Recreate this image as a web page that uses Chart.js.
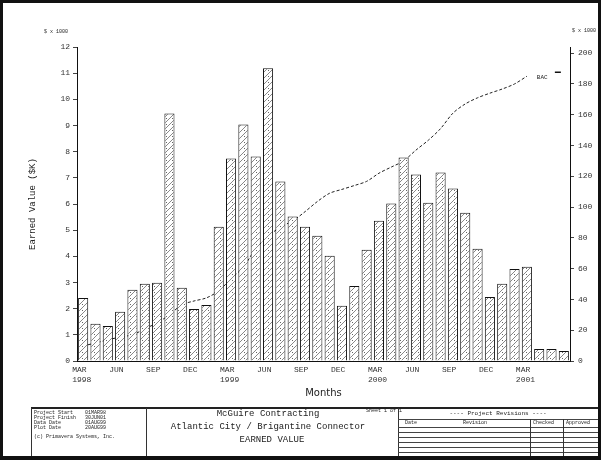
<!DOCTYPE html>
<html><head><meta charset="utf-8">
<script src="https://cdn.jsdelivr.net/npm/chart.js@4"></script>
<style>
html,body{margin:0;padding:0;background:#fff;}
#wrap{position:relative;width:601px;height:460px;overflow:hidden;background:#fff;}
#c{position:absolute;left:0;top:0;}
.frame{position:absolute;left:0;top:0;width:601px;height:460px;box-sizing:border-box;border:3px solid #111;border-bottom-width:4px;pointer-events:none;}
.t{position:absolute;white-space:pre;font-family:'Liberation Mono',monospace;color:#222;line-height:1;}
.hl{position:absolute;height:0;border-top:1px solid #444;}
.vl{position:absolute;width:0;border-left:1px solid #333;}
</style></head>
<body>
<div id="wrap">
<canvas id="c" width="601" height="460"></canvas>
<div class="t" style="left:44px;top:30px;font-size:5px;">$ x 1000</div>
<div class="t" style="left:572px;top:29px;font-size:5px;">$ x 1000</div>

<div class="hl" style="left:31px;top:407px;width:567px;border-top:2px solid #222;"></div>
<div class="vl" style="left:31px;top:408px;height:50px;"></div>
<div class="vl" style="left:146px;top:408px;height:50px;"></div>
<div class="vl" style="left:398px;top:408px;height:50px;"></div>

<div class="t" style="left:34px;top:411px;font-size:5px;">Project Start    01MAR98</div>
<div class="t" style="left:34px;top:416px;font-size:5px;">Project Finish   30JUN01</div>
<div class="t" style="left:34px;top:421px;font-size:5px;">Data Date        01AUG99</div>
<div class="t" style="left:34px;top:426px;font-size:5px;">Plot Date        20AUG99</div>
<div class="t" style="left:34px;top:435px;font-size:5px;">(c) Primavera Systems, Inc.</div>

<div class="t" style="left:146px;width:244px;text-align:center;top:410px;font-size:9px;">McGuire Contracting</div>
<div class="t" style="left:146px;width:244px;text-align:center;top:423px;font-size:9px;">Atlantic City / Brigantine Connector</div>
<div class="t" style="left:146px;width:252px;text-align:center;top:436px;font-size:9px;">EARNED VALUE</div>
<div class="t" style="left:366px;top:409px;font-size:5px;">Sheet 1 of 1</div>

<div class="t" style="left:398px;width:200px;text-align:center;top:411px;font-size:6px;">---- Project Revisions ----</div>
<div class="hl" style="left:398px;top:419px;width:200px;"></div>
<div class="t" style="left:405px;top:421px;font-size:5px;">Date</div>
<div class="t" style="left:463px;top:421px;font-size:5px;">Revision</div>
<div class="t" style="left:533px;top:421px;font-size:5px;">Checked</div>
<div class="t" style="left:566px;top:421px;font-size:5px;">Approved</div>
<div class="hl" style="left:398px;top:427px;width:200px;"></div>
<div class="hl" style="left:398px;top:432px;width:200px;"></div>
<div class="hl" style="left:398px;top:437px;width:200px;"></div>
<div class="hl" style="left:398px;top:442px;width:200px;"></div>
<div class="hl" style="left:398px;top:447px;width:200px;"></div>
<div class="hl" style="left:398px;top:452px;width:200px;"></div>
<div class="vl" style="left:530px;top:419px;height:38px;"></div>
<div class="vl" style="left:563px;top:419px;height:38px;"></div>

<div class="frame"></div>
</div>
<script>
const categories = ['MAR 1998','APR 1998','MAY 1998','JUN 1998','JUL 1998','AUG 1998','SEP 1998','OCT 1998','NOV 1998','DEC 1998',
  'JAN 1999','FEB 1999','MAR 1999','APR 1999','MAY 1999','JUN 1999','JUL 1999','AUG 1999','SEP 1999','OCT 1999','NOV 1999','DEC 1999',
  'JAN 2000','FEB 2000','MAR 2000','APR 2000','MAY 2000','JUN 2000','JUL 2000','AUG 2000','SEP 2000','OCT 2000','NOV 2000','DEC 2000',
  'JAN 2001','FEB 2001','MAR 2001','APR 2001','MAY 2001','JUN 2001'];
const xTickLabels = [['MAR','1998'],['JUN'],['SEP'],['DEC'],['MAR','1999'],['JUN'],['SEP'],['DEC'],['MAR','2000'],['JUN'],['SEP'],['DEC'],['MAR','2001']];
const monthlyValues = [2.41,1.42,1.34,1.88,2.72,2.95,2.99,9.46,2.8,1.99,2.14,5.13,7.74,9.04,7.82,11.19,6.86,5.52,5.13,4.79,
  4.02,2.11,2.87,4.25,5.36,6.02,7.78,7.13,6.05,7.2,6.59,5.67,4.29,2.45,2.95,3.52,3.6,0.46,0.46,0.38];
const cumulativeValues = [9.8,11.7,13.7,15.6,17,20.9,24.8,30,36.5,39,41,45.6,53.5,61,73,81,87,91,97,103.6,
  109,111.5,114,116.7,122,126,130,137,143.4,151,161,167,171,174,176.7,180,185,null,null,null];
const bacLabel = 'BAC';
const yTitle = 'Earned Value ($K)';
const xTitle = 'Months';

function makePattern(){
  const s = 6;
  const c = document.createElement('canvas'); c.width = s; c.height = s;
  const g = c.getContext('2d');
  g.fillStyle = '#fff'; g.fillRect(0,0,s,s);
  g.strokeStyle = '#888'; g.lineWidth = 1;
  g.beginPath();
  g.moveTo(0,s); g.lineTo(s,0);
  g.moveTo(-1,1); g.lineTo(1,-1);
  g.moveTo(s-1,s+1); g.lineTo(s+1,s-1);
  g.stroke();
  g.fillStyle = '#666'; g.fillRect(4,4,1,1);
  return g.createPattern(c,'repeat');
}

const bacPlugin = {
  id:'bac',
  afterDatasetsDraw(chart){
    const ds = chart.data.datasets[1];
    const meta = chart.getDatasetMeta(1);
    let last = null;
    meta.data.forEach((p,i)=>{ if (ds.data[i] != null) last = p; });
    if (!last) return;
    const ctx = chart.ctx;
    ctx.save();
    ctx.font = '6px "Liberation Mono"';
    ctx.fillStyle = '#222';
    ctx.textBaseline = 'middle';
    ctx.fillText(bacLabel, last.x + 10, last.y + 1);
    ctx.beginPath();
    ctx.moveTo(last.x + 28, last.y - 4);
    ctx.lineTo(last.x + 34, last.y - 4);
    ctx.strokeStyle = '#111'; ctx.lineWidth = 1.5; ctx.stroke();
    ctx.restore();
  }
};

const tickFont = {family:'Liberation Mono', size:8};
new Chart(document.getElementById('c'), {
  type:'bar',
  data:{
    labels: categories,
    datasets:[
      {type:'bar', data: monthlyValues, yAxisID:'y', backgroundColor: makePattern(), borderColor:'#111', borderWidth:1,
        barPercentage:0.82, categoryPercentage:1, order:1},
      {type:'line', data: cumulativeValues, yAxisID:'y2', borderColor:'#222', borderWidth:1, borderDash:[3,2],
        pointRadius:0, tension:0.3, fill:false, order:2}
    ]
  },
  options:{
    responsive:false, animation:false,
    layout:{padding:{left:0,right:0,top:47,bottom:0}},
    plugins:{legend:{display:false}, tooltip:{enabled:false}},
    scales:{
      x:{
        grid:{display:true, drawOnChartArea:false, drawTicks:false},
        border:{display:true, color:'#111', width:1},
        ticks:{autoSkip:false, maxRotation:0, minRotation:0, align:'start', labelOffset:-11, padding:4,
          font:tickFont, color:'#333',
          callback:(v,i)=> (i % 3 === 0 ? xTickLabels[i/3] : '')},
        title:{display:true, text:xTitle, font:{family:'DejaVu Sans', size:10}, color:'#222', padding:{top:0,bottom:61}},
        afterFit:(s)=>{ s.height = 99; }
      },
      y:{
        position:'left', min:0, max:12,
        ticks:{stepSize:1, font:tickFont, color:'#333', padding:3},
        grid:{display:true, drawOnChartArea:false, tickLength:4, color:'#444'},
        border:{display:true, color:'#111', width:1},
        title:{display:true, text:yTitle, font:{family:'Liberation Mono', size:9}, color:'#222', padding:{top:27,bottom:0}},
        afterFit:(s)=>{ s.width = 77; }
      },
      y2:{
        position:'right', min:0, max:204,
        ticks:{stepSize:20, includeBounds:false, font:tickFont, color:'#333', padding:4},
        grid:{display:true, drawOnChartArea:false, tickLength:4, color:'#444'},
        border:{display:true, color:'#111', width:1},
        afterFit:(s)=>{ s.width = 31; }
      }
    }
  },
  plugins:[bacPlugin]
});
</script>
</body></html>
